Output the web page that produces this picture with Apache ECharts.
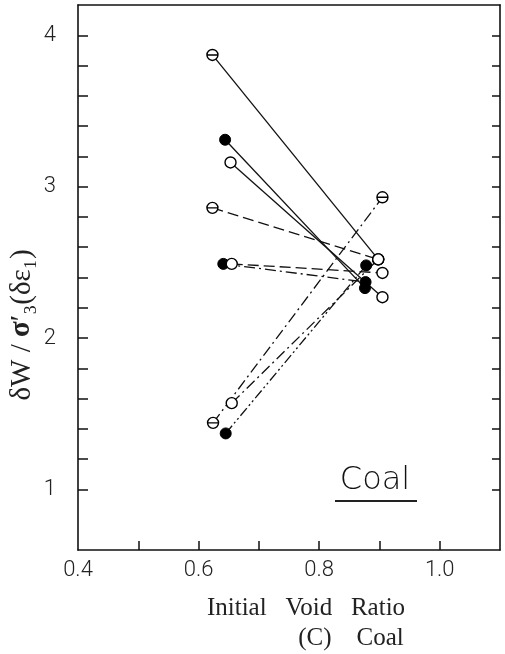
<!DOCTYPE html>
<html>
<head>
<meta charset="utf-8">
<script src="https://cdn.jsdelivr.net/npm/echarts@6/dist/echarts.min.js"></script>
<style>
  html, body { margin: 0; padding: 0; background: #ffffff; }
  #chart { width: 505px; height: 654px; }
</style>
</head>
<body>
<div id="chart"></div>
<script>
// Each test is one segment: initial void ratio -> later state, with its energy ratio.
const startVoid  = [0.623, 0.644, 0.653, 0.623, 0.641, 0.655, 0.624, 0.655, 0.645];
const startRatio = [3.87, 3.31, 3.16, 2.86, 2.49, 2.49, 1.44, 1.57, 1.37];
const endVoid    = [0.898, 0.876, 0.905, 0.898, 0.877, 0.905, 0.905, 0.898, 0.878];
const endRatio   = [2.52, 2.33, 2.27, 2.52, 2.37, 2.43, 2.93, 2.52, 2.48];
const markerKind = ['theta', 'filled', 'open', 'theta', 'filled', 'open', 'theta', 'open', 'filled'];
const lineKind   = ['solid', 'solid', 'solid', 'dashed', 'dashdot', 'dashed', 'dashdot', 'dashdot', 'dashdotdot'];

// Axis ticks and labels
const xTickValues  = [0.5, 0.6, 0.7, 0.8, 0.9, 1.0];
const xLabelValues = [0.4, 0.6, 0.8, 1.0];
const xLabelText   = ['0.4', '0.6', '0.8', '1.0'];
const yTickValues  = [1.0, 1.2, 1.4, 1.6, 1.8, 2.0, 2.2, 2.4, 2.6, 2.8, 3.0, 3.2, 3.4, 3.6, 3.8, 4.0];
const yLabelValues = [1, 2, 3, 4];
const yLabelText   = ['1', '2', '3', '4'];

const dashStyles = {
  solid: 'solid',
  dashed: [11, 5],
  dashdot: [11, 4, 2, 4],
  dashdotdot: [10, 3, 2, 3, 2, 3]
};

const thetaPath = 'path://M0,10A10,10,0,1,1,20,10A10,10,0,1,1,0,10ZM0,10L20,10';

function markerStyle(kind) {
  if (kind === 'filled') {
    return { symbol: 'circle', itemStyle: { color: '#000', borderColor: '#000', borderWidth: 1 } };
  }
  if (kind === 'theta') {
    return { symbol: thetaPath, itemStyle: { color: '#fff', borderColor: '#000', borderWidth: 1.4 } };
  }
  return { symbol: 'circle', itemStyle: { color: '#fff', borderColor: '#000', borderWidth: 1.4 } };
}

function labelFor(values, texts) {
  return function (v) {
    for (let i = 0; i < values.length; i++) {
      if (Math.abs(values[i] - v) < 1e-6) return texts[i];
    }
    return '';
  };
}

const series = startVoid.map(function (sx, i) {
  const m = markerStyle(markerKind[i]);
  return {
    type: 'line',
    xAxisIndex: 0,
    yAxisIndex: 0,
    data: [[sx, startRatio[i]], [endVoid[i], endRatio[i]]],
    symbol: m.symbol,
    symbolSize: 11,
    showAllSymbol: true,
    itemStyle: m.itemStyle,
    lineStyle: { color: '#111', width: 1.3, type: dashStyles[lineKind[i]] },
    z: 3,
    animation: false,
    silent: true
  };
});

const tickFont = { fontFamily: 'Roboto', fontWeight: 300, fontSize: 22, color: '#222' };

const option = {
  backgroundColor: '#ffffff',
  animation: false,
  grid: { left: 78, top: 5, width: 422, height: 545, containLabel: false },
  xAxis: [
    {
      type: 'value', position: 'bottom', min: 0.4, max: 1.1, interval: 0.1,
      axisLine: { show: true, onZero: false, lineStyle: { color: '#111', width: 1.6 } },
      axisTick: { show: true, inside: true, length: 9, customValues: xTickValues, lineStyle: { color: '#111', width: 1.5 } },
      axisLabel: Object.assign({ show: true, margin: 9, customValues: xLabelValues, formatter: labelFor(xLabelValues, xLabelText) }, tickFont),
      splitLine: { show: false }
    },
    {
      type: 'value', position: 'top', min: 0.4, max: 1.1,
      axisLine: { show: true, onZero: false, lineStyle: { color: '#111', width: 1.6 } },
      axisTick: { show: false }, axisLabel: { show: false }, splitLine: { show: false }
    }
  ],
  yAxis: [
    {
      type: 'value', position: 'left', min: 0.6, max: 4.2, interval: 0.2,
      axisLine: { show: true, onZero: false, lineStyle: { color: '#111', width: 1.6 } },
      axisTick: { show: true, inside: true, length: 10, customValues: yTickValues, lineStyle: { color: '#111', width: 1.5 } },
      axisLabel: Object.assign({ show: true, margin: 22, customValues: yLabelValues, formatter: labelFor(yLabelValues, yLabelText) }, tickFont),
      splitLine: { show: false }
    },
    {
      type: 'value', position: 'right', min: 0.6, max: 4.2, interval: 0.2,
      axisLine: { show: true, onZero: false, lineStyle: { color: '#111', width: 1.6 } },
      axisTick: { show: true, inside: true, length: 8, customValues: yTickValues, lineStyle: { color: '#111', width: 1.5 } },
      axisLabel: { show: false }, splitLine: { show: false }
    }
  ],
  graphic: [
    {
      type: 'text', x: 22, y: 325, rotation: Math.PI / 2,
      style: {
        text: '{n|δW / }{b|σ}{n|′₃(δε₁)}',
        rich: {
          n: { fontFamily: 'Liberation Serif', fontSize: 29, fill: '#222' },
          b: { fontFamily: 'Liberation Serif', fontSize: 29, fontWeight: 'bold', fill: '#222' }
        },
        align: 'center', verticalAlign: 'middle'
      }
    },
    {
      type: 'text', x: 306, y: 608,
      style: {
        text: 'Initial   Void   Ratio',
        fontFamily: 'Liberation Serif', fontSize: 25, fill: '#222',
        align: 'center', verticalAlign: 'middle'
      }
    },
    {
      type: 'text', x: 351, y: 638,
      style: {
        text: '(C)    Coal',
        fontFamily: 'Liberation Serif', fontSize: 25, fill: '#222',
        align: 'center', verticalAlign: 'middle'
      }
    },
    {
      type: 'text', x: 375, y: 481,
      style: {
        text: 'Coal',
        fontFamily: 'DejaVu Sans', fontWeight: 200, fontSize: 32, fill: '#111',
        align: 'center', verticalAlign: 'middle'
      }
    },
    {
      type: 'line', shape: { x1: 335, y1: 501, x2: 417, y2: 501 },
      style: { stroke: '#222', lineWidth: 2 }
    }
  ],
  series: series
};

const chart = echarts.init(document.getElementById('chart'), null, { renderer: 'canvas' });
chart.setOption(option);
</script>
</body>
</html>
